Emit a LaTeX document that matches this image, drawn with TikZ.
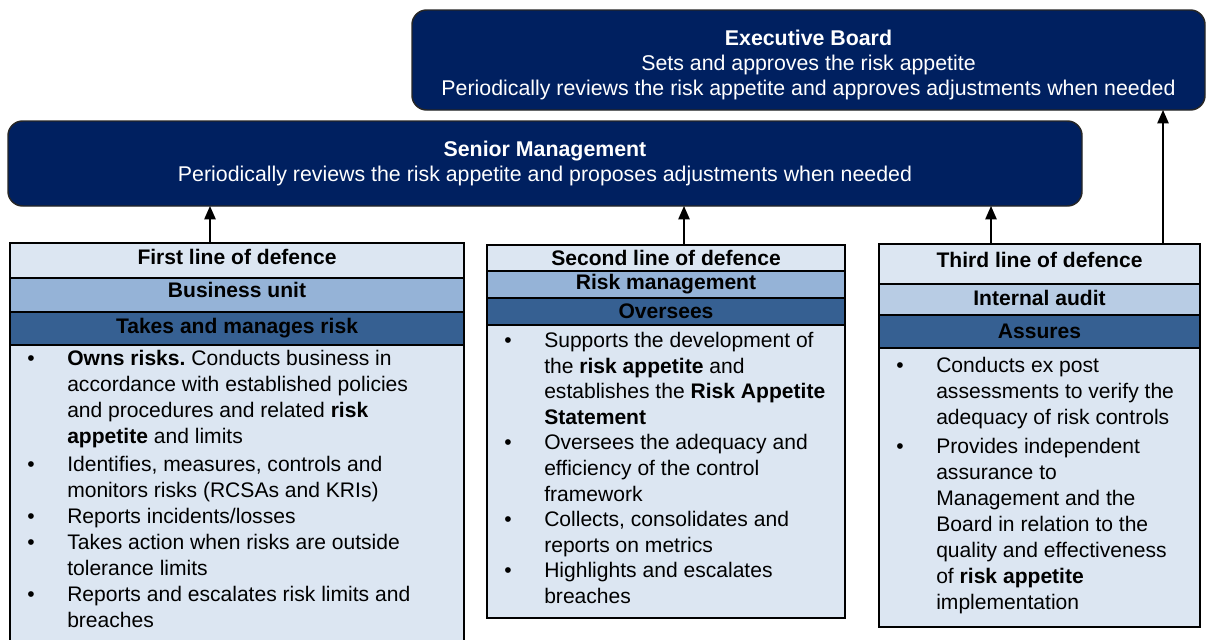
\documentclass[tikz,border=0pt]{standalone}
\usepackage{fontspec}
\setmainfont{Liberation Sans}
\usetikzlibrary{positioning,arrows.meta}

\definecolor{navy}{HTML}{002060}
\definecolor{paleblue}{HTML}{DCE6F2}
\definecolor{midblue}{HTML}{95B3D7}
\definecolor{softblue}{HTML}{B8CCE4}
\definecolor{deepblue}{HTML}{366092}

\newcommand{\px}{0.75pt}
\newcommand{\itm}[1]{\par\noindent\hangindent=30pt\hangafter=1\makebox[30pt][l]{\textbullet}#1}
\frenchspacing

\tikzset{
  topbox/.style={draw=black!85, line width=1.1pt, fill=navy, rounded corners=11pt,
    inner sep=0pt, outer sep=0pt, anchor=north west},
  toptext/.style={text=white, align=center, inner sep=0pt,
    font=\fontsize{16}{18.6}\selectfont},
  rowbox/.style={draw=black, line width=1.5pt, inner sep=0pt, outer sep=0pt,
    font=\fontsize{15.8}{18.4}\selectfont\bfseries},
  bodybox/.style={draw=black, line width=1.5pt, fill=paleblue, inner sep=0pt, outer sep=0pt},
  bodytext/.style={anchor=north west, inner sep=0pt,
    font=\fontsize{15.8}{19.5}\selectfont},
  arr/.style={line width=1.1pt, -{Triangle[length=10pt,width=8.5pt]}},
}

\begin{document}
\begin{tikzpicture}[x=0.75pt,y=-0.75pt]
\useasboundingbox (0,0) rectangle (1206,639);

% top boxes
\node[topbox, minimum width=793*\px, minimum height=100*\px] (exec) at (412,10) {};
\node[toptext] (exectext) at ([yshift=-5*\px]exec.center)
  {\textbf{Executive Board}\\Sets and approves the risk appetite\\Periodically reviews the risk appetite and approves adjustments when needed};
\node[topbox, minimum width=1074*\px, minimum height=85*\px] (senior) at (8,121) {};
\node[toptext] (seniortext) at (senior.center)
  {\textbf{Senior Management}\\Periodically reviews the risk appetite and proposes adjustments when needed};

% first line of defence
\node[rowbox, fill=paleblue, anchor=north west, minimum width=454*\px, minimum height=35*\px, text depth=8*\px] (l1head) at (10,243) {First line of defence};
\node[rowbox, fill=midblue, below=0pt of l1head, minimum width=454*\px, minimum height=34*\px, text depth=10*\px] (l1unit) {Business unit};
\node[rowbox, fill=deepblue, below=0pt of l1unit, minimum width=454*\px, minimum height=33*\px] (l1role) {Takes and manages risk};
\node[bodybox, below=0pt of l1role, minimum width=454*\px, minimum height=310*\px] (l1body) {};
\node[bodytext] (l1text) at ([xshift=17*\px, yshift=-5*\px]l1body.north west) {\parbox{315pt}{%
\itm{\textbf{Owns risks.} Conducts business in\\accordance with established policies\\and procedures and related \textbf{risk}\\\textbf{appetite} and limits}\vspace{1.5pt}
\itm{Identifies, measures, controls and\\monitors risks (RCSAs and KRIs)}
\itm{Reports incidents/losses}
\itm{Takes action when risks are outside\\tolerance limits}
\itm{Reports and escalates risk limits and\\breaches}}};

% second line of defence
\node[rowbox, fill=paleblue, anchor=north west, minimum width=358*\px, minimum height=26*\px] (l2head) at (487,245) {Second line of defence};
\node[rowbox, fill=midblue, below=0pt of l2head, minimum width=358*\px, minimum height=27*\px] (l2unit) {Risk management};
\node[rowbox, fill=deepblue, below=0pt of l2unit, minimum width=358*\px, minimum height=27*\px] (l2role) {Oversees};
\node[bodybox, below=0pt of l2role, minimum width=358*\px, minimum height=293*\px] (l2body) {};
\node[bodytext, font=\fontsize{15.8}{19.2}\selectfont] (l2text) at ([xshift=17*\px, yshift=-7*\px]l2body.north west) {\parbox{247pt}{%
\itm{Supports the development of\\the \textbf{risk appetite} and\\establishes the \textbf{Risk Appetite}\\\textbf{Statement}}
\itm{Oversees the adequacy and\\efficiency of the control\\framework}
\itm{Collects, consolidates and\\reports on metrics}
\itm{Highlights and escalates\\breaches}}};

% third line of defence
\node[rowbox, fill=paleblue, anchor=north west, minimum width=321*\px, minimum height=40*\px, text depth=8*\px] (l3head) at (879,244) {Third line of defence};
\node[rowbox, fill=softblue, below=0pt of l3head, minimum width=321*\px, minimum height=31*\px, text depth=4*\px] (l3unit) {Internal audit};
\node[rowbox, fill=deepblue, below=0pt of l3unit, minimum width=321*\px, minimum height=33*\px] (l3role) {Assures};
\node[bodybox, below=0pt of l3role, minimum width=321*\px, minimum height=279*\px] (l3body) {};
\node[bodytext] (l3text) at ([xshift=17*\px, yshift=-9*\px]l3body.north west) {\parbox{225pt}{%
\itm{Conducts ex post\\assessments to verify the\\adequacy of risk controls}\vspace{2pt}
\itm{Provides independent\\assurance to\\Management and the\\Board in relation to the\\quality and effectiveness\\of \textbf{risk appetite}\\implementation}}};

% reporting arrows
\coordinate (a1) at (210,0);
\coordinate (a2) at (684,0);
\coordinate (a3) at (991,0);
\coordinate (a4) at (1163,0);
\draw[arr] (l1head.north -| a1) -- (senior.south -| a1);
\draw[arr] (l2head.north -| a2) -- (senior.south -| a2);
\draw[arr] (l3head.north -| a3) -- (senior.south -| a3);
\draw[arr] (l3head.north -| a4) -- (exec.south -| a4);

\end{tikzpicture}
\end{document}
